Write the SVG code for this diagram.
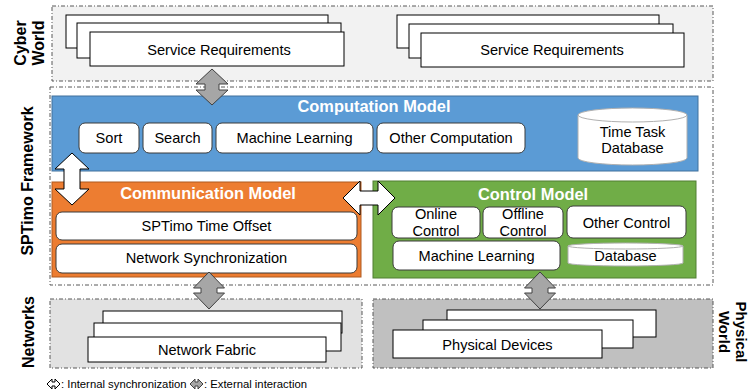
<svg xmlns="http://www.w3.org/2000/svg" width="749" height="392" viewBox="0 0 749 392">
  <style>
    text { font-family: "Liberation Sans", Arial, sans-serif; }
    .zone { stroke: #595959; stroke-width: 1; stroke-dasharray: 4 2 1 2; }
    .sheet { fill: #ffffff; stroke: #000000; stroke-width: 1; }
    .pill { fill: #ffffff; stroke: #3a3a3a; stroke-width: 1; }
    .cyl { fill: #ffffff; stroke: #b0b0b0; stroke-width: 1; }
    .lbl { font-size: 14.6px; fill: #000000; text-anchor: middle; }
    .ttl { font-size: 16.4px; font-weight: bold; fill: #ffffff; text-anchor: middle; }
    .side { font-size: 16px; font-weight: bold; fill: #000000; text-anchor: middle; }
    .ext { fill: #a6a6a6; stroke: #404040; stroke-width: 1; }
    .int { fill: #ffffff; stroke: #000000; stroke-width: 1; }
    .leg { font-size: 11.3px; fill: #000000; }
  </style>

  <!-- layer zones -->
  <g id="cyber-world">
    <rect class="zone" x="52" y="6" width="661" height="75" fill="#f2f2f2"/>
    <text class="side" transform="translate(0,43) rotate(-90)"><tspan x="0" y="26">Cyber</tspan><tspan x="0" y="44">World</tspan></text>
  </g>
  <g id="sptimo-framework">
    <rect class="zone" x="50" y="87" width="663" height="198" fill="#ffffff"/>
    <text class="side" transform="translate(33,181) rotate(-90)" x="0" y="0">SPTimo Framework</text>
  </g>
  <g id="networks">
    <rect class="zone" x="50" y="299" width="312" height="69" fill="#e2e2e2"/>
    <text class="side" transform="translate(34,332) rotate(-90)" x="0" y="0">Networks</text>
  </g>
  <g id="physical-world">
    <rect class="zone" x="373" y="299" width="340" height="69" fill="#c0c0c0"/>
    <text class="side" style="font-size:15px" transform="translate(0,332) rotate(90)"><tspan x="0" y="-736">Physical</tspan><tspan x="0" y="-719">World</tspan></text>
  </g>

  <!-- service requirement stacks -->
  <g id="service-requirements-1">
    <rect class="sheet" x="66" y="15" width="262" height="33"/>
    <rect class="sheet" x="77" y="23" width="264" height="35"/>
    <rect class="sheet" x="90" y="32" width="254" height="34"/>
    <text class="lbl" x="219" y="55">Service Requirements</text>
  </g>
  <g id="service-requirements-2">
    <rect class="sheet" x="397" y="15" width="262" height="33"/>
    <rect class="sheet" x="409" y="24" width="264" height="34"/>
    <rect class="sheet" x="421" y="33" width="263" height="34"/>
    <text class="lbl" x="552" y="55">Service Requirements</text>
  </g>

  <!-- computation model -->
  <g id="computation-model">
    <rect x="52" y="96" width="646" height="75" fill="#5b9bd5" stroke="#41719c" stroke-width="1"/>
    <text class="ttl" x="374" y="112">Computation Model</text>
    <rect class="pill" x="79" y="123" width="60" height="30" rx="6"/>
    <text class="lbl" x="109" y="143">Sort</text>
    <rect class="pill" x="143" y="123" width="69" height="30" rx="6"/>
    <text class="lbl" x="177.5" y="143">Search</text>
    <rect class="pill" x="216" y="123" width="157" height="30" rx="6"/>
    <text class="lbl" x="294.5" y="143">Machine Learning</text>
    <rect class="pill" x="377" y="123" width="148" height="30" rx="6"/>
    <text class="lbl" x="451" y="143">Other Computation</text>
  </g>
  <g id="time-task-database">
    <path class="cyl" d="M578,115 L578,158 A54.5,7 0 0 0 687,158 L687,115 A54.5,7 0 0 0 578,115 A54.5,7 0 0 0 687,115"/>
    <text class="lbl" x="632.5" y="137">Time Task</text>
    <text class="lbl" x="632.5" y="153">Database</text>
  </g>

  <!-- communication model -->
  <g id="communication-model">
    <rect x="52" y="182" width="309" height="95" fill="#ed7d31" stroke="#ae5a21" stroke-width="1"/>
    <text class="ttl" x="208" y="199">Communication Model</text>
    <rect class="pill" x="56" y="212" width="301" height="28" rx="6"/>
    <text class="lbl" x="206.5" y="231">SPTimo Time Offset</text>
    <rect class="pill" x="56" y="244" width="301" height="29" rx="6"/>
    <text class="lbl" x="206.5" y="263">Network Synchronization</text>
  </g>

  <!-- control model -->
  <g id="control-model">
    <rect x="373" y="181" width="323" height="97" fill="#70ad47" stroke="#507e32" stroke-width="1"/>
    <text class="ttl" x="533" y="200">Control Model</text>
    <rect class="pill" x="392" y="207" width="88" height="31" rx="6"/>
    <text class="lbl" x="436" y="219">Online</text>
    <text class="lbl" x="436" y="236">Control</text>
    <rect class="pill" x="483" y="207" width="80" height="31" rx="6"/>
    <text class="lbl" x="523" y="219">Offline</text>
    <text class="lbl" x="523" y="236">Control</text>
    <rect class="pill" x="567" y="206" width="119" height="32" rx="6"/>
    <text class="lbl" x="626.5" y="228">Other Control</text>
    <rect class="pill" x="393" y="241" width="167" height="29" rx="6"/>
    <text class="lbl" x="476.5" y="261">Machine Learning</text>
  </g>
  <g id="control-database">
    <path class="cyl" d="M568,246 L568,263 A57.5,3 0 0 0 683,263 L683,246 A57.5,3 0 0 0 568,246 A57.5,3 0 0 0 683,246"/>
    <text class="lbl" x="625.5" y="261">Database</text>
  </g>

  <!-- network fabric and physical devices -->
  <g id="network-fabric">
    <rect class="sheet" x="103" y="311" width="239" height="22"/>
    <rect class="sheet" x="94" y="323" width="247" height="28"/>
    <rect class="sheet" x="88" y="337" width="238" height="25"/>
    <text class="lbl" x="207" y="355">Network Fabric</text>
  </g>
  <g id="physical-devices">
    <rect class="sheet" x="447" y="310" width="209" height="27"/>
    <rect class="sheet" x="423" y="320" width="210" height="28"/>
    <rect class="sheet" x="393" y="330" width="209" height="28"/>
    <text class="lbl" x="497.5" y="350">Physical Devices</text>
  </g>

  <!-- interaction arrows -->
  <g id="connectors">
    <polygon class="ext" points="212,69 228,84 219,84 219,90 228,90 212,105 196,90 205,90 205,84 196,84"/>
    <polygon class="int" points="72,153 89,169 80,169 80,189 89,189 72,205 55,189 64,189 64,169 55,169"/>
    <polygon class="int" points="343,198 360,181 360,191 378,191 378,181 395,198 378,215 378,205 360,205 360,215"/>
    <polygon class="ext" points="209,272 224.5,288 217,288 217,293 224.5,293 209,309 193.5,293 201,293 201,288 193.5,288"/>
    <polygon class="ext" points="540,272 555.5,288 548,288 548,293 555.5,293 540,309 524.5,293 532,293 532,288 524.5,288"/>
  </g>

  <!-- legend -->
  <g id="legend">
    <polygon class="int" points="47,384 52,379 52,382 55,382 55,379 60,384 55,389 55,386 52,386 52,389"/>
    <text class="leg" x="61" y="388">: Internal synchronization</text>
    <polygon class="ext" points="190,384 195,379 195,382 198,382 198,379 203,384 198,389 198,386 195,386 195,389" fill="#808080"/>
    <text class="leg" x="204" y="388"> : External interaction</text>
  </g>
</svg>
